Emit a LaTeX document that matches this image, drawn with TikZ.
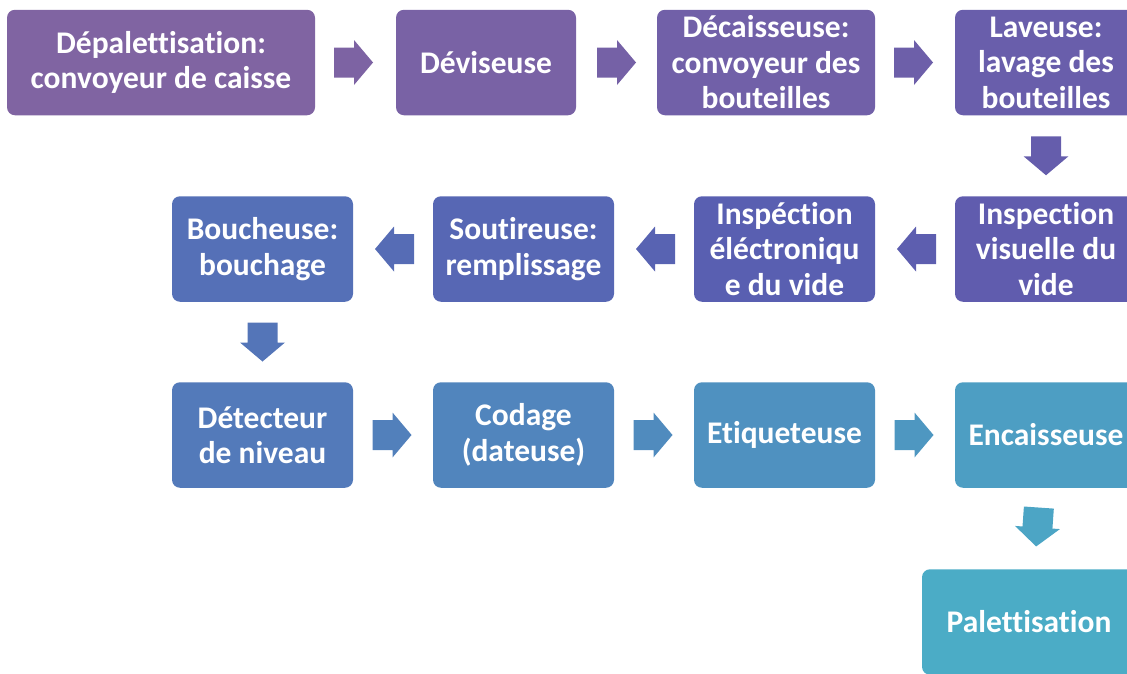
\documentclass[tikz,border=0pt]{standalone}
\usepackage{fontspec}
\setmainfont{Carlito}[Ligatures=NoCommon]
\usetikzlibrary{calc}
\definecolor{c1}{RGB}{128,100,162}
\definecolor{c2}{RGB}{121,98,165}
\definecolor{c3}{RGB}{113,96,168}
\definecolor{c4}{RGB}{105,94,171}
\definecolor{c5}{RGB}{96,92,174}
\definecolor{c6}{RGB}{89,95,177}
\definecolor{c7}{RGB}{87,103,180}
\definecolor{c8}{RGB}{85,112,183}
\definecolor{c9}{RGB}{83,122,186}
\definecolor{c10}{RGB}{81,133,189}
\definecolor{c11}{RGB}{79,145,192}
\definecolor{c12}{RGB}{77,158,195}
\definecolor{c13}{RGB}{75,172,198}
\tikzset{
  box/.style={rectangle, rounded corners=8pt, fill=#1, text=white, inner sep=0pt,
    font=\bfseries\fontsize{31.5}{35.5}\selectfont, align=center, minimum height=105.5pt},
  blockarrow/.pic={\path[pic actions] (-19.5,-15) -- (0.5,-15) -- (0.5,-22.5) -- (19.5,0)
      -- (0.5,22.5) -- (0.5,15) -- (-19.5,15) -- cycle;}
}
\begin{document}
\begin{tikzpicture}[x=1pt,y=-1pt]
\useasboundingbox (0,0) rectangle (1127,673);
\clip (0,0) rectangle (1127,673);
% row 1
\node[box=c1, minimum width=308pt] (n1) at (161,62.5) {Dépalettisation:\\convoyeur de caisse};
\node[box=c2, minimum width=180pt] (n2) at (486,62.5) {Déviseuse};
\node[box=c3, minimum width=218pt] (n3) at (766,62.5) {Décaisseuse:\\convoyeur des\\bouteilles};
\node[box=c4, minimum width=182pt] (n4) at (1046,62.5) {Laveuse:\\lavage des\\bouteilles};
% row 2
\node[box=c5, minimum width=182pt] (n5) at (1046,249) {Inspection\\visuelle du\\vide};
\node[box=c6, minimum width=181pt] (n6) at (784.5,249) {Inspéction\\éléctroniqu\\e du vide};
\node[box=c7, minimum width=181pt] (n7) at (523.5,249) {Soutireuse:\\remplissage};
\node[box=c8, minimum width=181pt] (n8) at (262.5,249) {Boucheuse:\\bouchage};
% row 3
\node[box=c9, minimum width=181pt] (n9) at (262.5,435) {Détecteur\\de niveau};
\node[box=c10, minimum width=181pt] (n10) at (523.5,435) {Codage\\(dateuse)};
\node[box=c11, minimum width=181pt] (n11) at (784.5,435) {Etiqueteuse};
\node[box=c12, minimum width=182pt] (n12) at (1046,435) {Encaisseuse};
% row 4
\node[box=c13, minimum width=214pt] (n13) at (1029,622) {Palettisation};
% arrows
\pic[fill=c1!50!c2] at ($(n1.east)!.5!(n2.west)+(-2,0)$) {blockarrow};
\pic[fill=c2!50!c3] at ($(n2.east)!.5!(n3.west)$) {blockarrow};
\pic[fill=c3!50!c4] at ($(n3.east)!.5!(n4.west)-(1.5,0)$) {blockarrow};
\pic[fill=c4!50!c5, rotate=-90] at ($(n4.south)!.5!(n5.north)$) {blockarrow};
\pic[fill=c5!50!c6, rotate=180] at ($(n5.west)!.5!(n6.east)+(1.5,0)$) {blockarrow};
\pic[fill=c6!50!c7, rotate=180] at ($(n6.west)!.5!(n7.east)+(1.5,0)$) {blockarrow};
\pic[fill=c7!50!c8, rotate=180] at ($(n7.west)!.5!(n8.east)+(1.5,0)$) {blockarrow};
\pic[fill=c8!50!c9, rotate=-90] at ($(n8.south)!.5!(n9.north)$) {blockarrow};
\pic[fill=c9!50!c10] at ($(n9.east)!.5!(n10.west)-(1,0)$) {blockarrow};
\pic[fill=c10!50!c11] at ($(n10.east)!.5!(n11.west)-(1,0)$) {blockarrow};
\pic[fill=c11!50!c12] at ($(n11.east)!.5!(n12.west)-(1,0)$) {blockarrow};
\pic[fill=c12!50!c13, rotate=-94] at ($(n12.south)!.5!(n13.north)-(0,1.5)$) {blockarrow};
\end{tikzpicture}
\end{document}
